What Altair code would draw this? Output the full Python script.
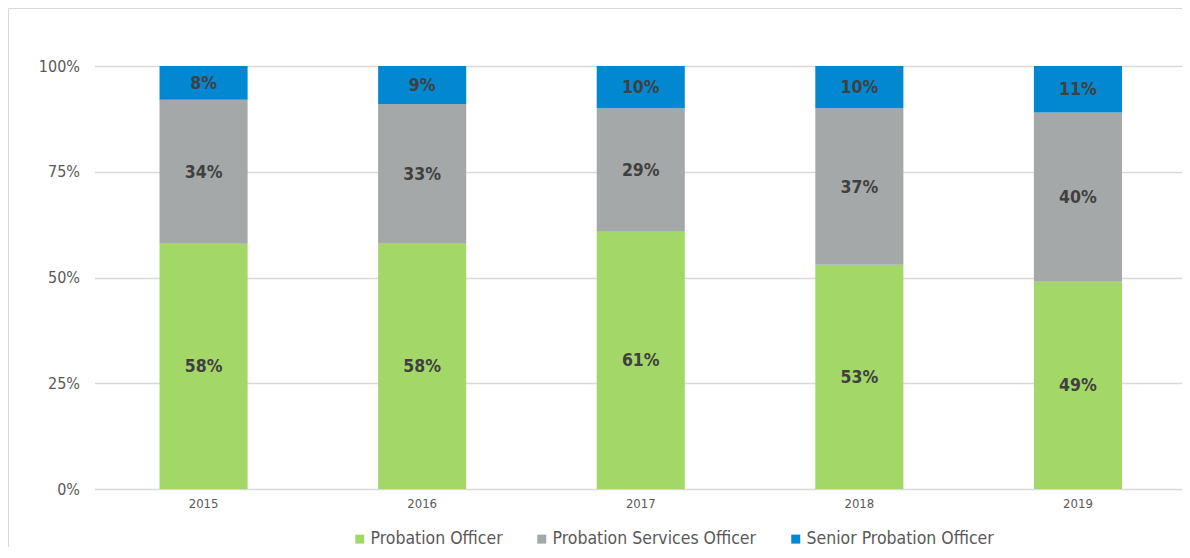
import altair as alt
import pandas as pd

years = ["2015", "2016", "2017", "2018", "2019"]
series = ["Probation Officer", "Probation Services Officer", "Senior Probation Officer"]
probation_officer = [58, 58, 61, 53, 49]
probation_services_officer = [34, 33, 29, 37, 40]
senior_probation_officer = [8, 9, 10, 10, 11]
colors = ["#A3D869", "#A5A8A8", "#0288D1"]
y_ticks = [0, 25, 50, 75, 100]

FONT = "DejaVu Sans Condensed, DejaVu Sans, sans-serif"

rows = []
for i, yr in enumerate(years):
    for k, vals in enumerate([probation_officer, probation_services_officer, senior_probation_officer]):
        rows.append({"year": yr, "series": series[k], "value": vals[i], "ord": k})
df = pd.DataFrame(rows)

W = 1087.5
H = 423

xscale = alt.Scale(paddingInner=0.597, paddingOuter=0.286, align=0.52)
yscale = alt.Scale(domain=[0, 100], nice=False)

base = alt.Chart(df)

bars = base.mark_bar().encode(
    x=alt.X("year:N", scale=xscale, title=None,
            axis=alt.Axis(labelAngle=0, labelFont=FONT, labelFontSize=13, labelColor="#595959",
                          ticks=False, domain=False, labelPadding=8, grid=False)),
    y=alt.Y("value:Q", stack="zero", scale=yscale, title=None,
            axis=alt.Axis(values=y_ticks, labelExpr="datum.value + '%'", labelFont=FONT,
                          labelFontSize=16, labelColor="#595959", ticks=False, domain=False,
                          labelPadding=15, grid=True, gridColor="#D9D9D9", gridWidth=1.5)),
    color=alt.Color("series:N", scale=alt.Scale(domain=series, range=colors),
                    legend=alt.Legend(title=None, orient="none", legendX=256.5, legendY=464,
                                      direction="horizontal", symbolType="square", symbolSize=81,
                                      symbolStrokeWidth=0, labelFont=FONT, labelFontSize=17.5,
                                      labelColor="#595959", labelOffset=2, columnPadding=30,
                                      labelLimit=0, padding=0)),
    order=alt.Order("ord:Q", sort="ascending"),
)

labels = base.transform_stack(
    stack="value", as_=["y0", "y1"], groupby=["year"],
    sort=[alt.SortField("ord", order="ascending")]
).transform_calculate(
    mid="(datum.y0 + datum.y1) / 2", label="datum.value + '%'"
).mark_text(font=FONT, fontWeight="bold", fontSize=17.5, color="#404040", baseline="middle", dy=1).encode(
    x=alt.X("year:N", scale=xscale, title=None),
    y=alt.Y("mid:Q", scale=yscale, title=None),
    text="label:N",
)

border = alt.Chart(pd.DataFrame({"b": [0]})).mark_rect(
    filled=False, stroke="#D9D9D9", strokeWidth=1
).encode(x=alt.value(-86), x2=alt.value(1200), y=alt.value(-57.5), y2=alt.value(700))

chart = alt.layer(border, bars, labels).properties(
    width=W, height=H,
    padding={"left": 86.5, "top": 58, "right": 0, "bottom": 58},
    autosize=alt.AutoSizeParams(type="none"),
).configure_view(strokeWidth=0)

chart.save("out.html", embed_options={"renderer": "svg", "actions": False})
